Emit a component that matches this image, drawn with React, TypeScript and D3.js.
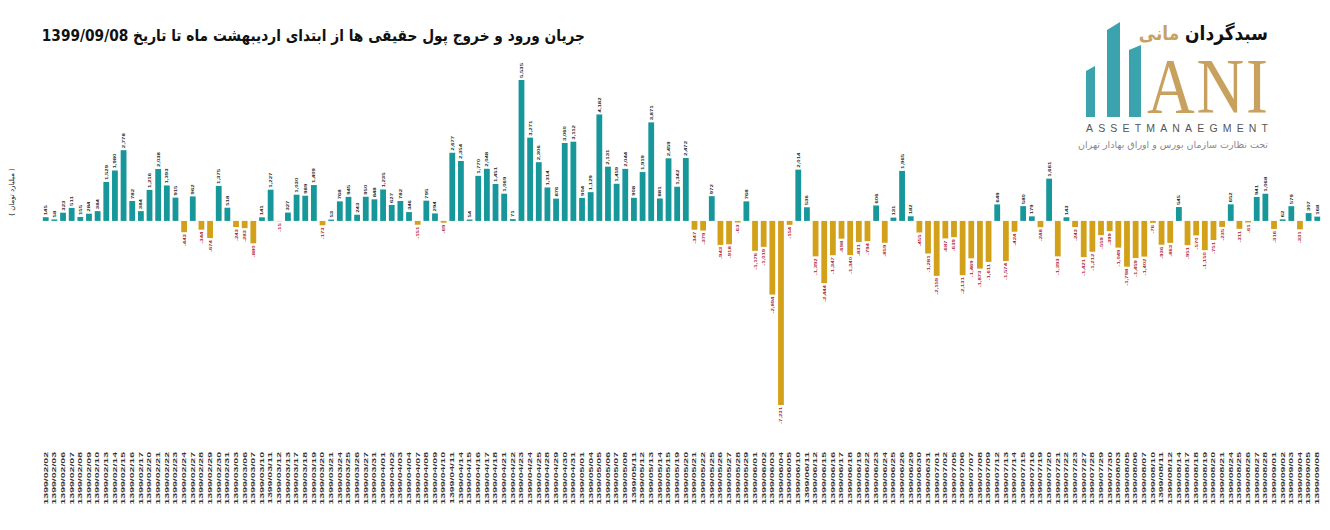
import * as d3 from 'd3';

// trading days, 1399/02/02 .. 1399/09/08
const dates = [
  '1399/02/02', '1399/02/03', '1399/02/06', '1399/02/07', '1399/02/08', '1399/02/09', '1399/02/10',
  '1399/02/13', '1399/02/14', '1399/02/15', '1399/02/16', '1399/02/17', '1399/02/20', '1399/02/21',
  '1399/02/22', '1399/02/23', '1399/02/24', '1399/02/27', '1399/02/28', '1399/02/29', '1399/02/30',
  '1399/02/31',
  '1399/03/03', '1399/03/06', '1399/03/07', '1399/03/10', '1399/03/11', '1399/03/12', '1399/03/13',
  '1399/03/17', '1399/03/18', '1399/03/19', '1399/03/20', '1399/03/21', '1399/03/24', '1399/03/25',
  '1399/03/26', '1399/03/27', '1399/03/31',
  '1399/04/01', '1399/04/02', '1399/04/03', '1399/04/04', '1399/04/07', '1399/04/08', '1399/04/09',
  '1399/04/10', '1399/04/11', '1399/04/14', '1399/04/15', '1399/04/16', '1399/04/17', '1399/04/18',
  '1399/04/21', '1399/04/22', '1399/04/23', '1399/04/24', '1399/04/25', '1399/04/28', '1399/04/29',
  '1399/04/30', '1399/04/31',
  '1399/05/01', '1399/05/04', '1399/05/05', '1399/05/06', '1399/05/07', '1399/05/08', '1399/05/11',
  '1399/05/12', '1399/05/13', '1399/05/14', '1399/05/15', '1399/05/19', '1399/05/20', '1399/05/21',
  '1399/05/22', '1399/05/25', '1399/05/26', '1399/05/27', '1399/05/28', '1399/05/29',
  '1399/06/01', '1399/06/02', '1399/06/03', '1399/06/04', '1399/06/05', '1399/06/10', '1399/06/11',
  '1399/06/12', '1399/06/15', '1399/06/16', '1399/06/17', '1399/06/18', '1399/06/19', '1399/06/22',
  '1399/06/23', '1399/06/24', '1399/06/25', '1399/06/26', '1399/06/29', '1399/06/30', '1399/06/31',
  '1399/07/01', '1399/07/02', '1399/07/05', '1399/07/06', '1399/07/07', '1399/07/08', '1399/07/09',
  '1399/07/12', '1399/07/13', '1399/07/14', '1399/07/15', '1399/07/16', '1399/07/19', '1399/07/20',
  '1399/07/21', '1399/07/22', '1399/07/23', '1399/07/27', '1399/07/28', '1399/07/29', '1399/07/30',
  '1399/08/03', '1399/08/05', '1399/08/06', '1399/08/07', '1399/08/10', '1399/08/11', '1399/08/12',
  '1399/08/14', '1399/08/17', '1399/08/18', '1399/08/19', '1399/08/20', '1399/08/21', '1399/08/24',
  '1399/08/25', '1399/08/26', '1399/08/27', '1399/08/28',
  '1399/09/01', '1399/09/02', '1399/09/03', '1399/09/04', '1399/09/05', '1399/09/08',
];

// net retail money flow, billion toman
const flows = [
  145, 58, 323, 511, 155, 284, 384, 1529, 1980, 2778, 782, 384, 1216, 2038, 1393, 915, -443, 962,
  -344, -674, 1375, 518, -243, -283, -880,
  141, 1227, -15, 327, 1030, 989, 1409, -173, 53, 768, 945, 243, 950, 848, 1235, 627, 782, 346,
  -151, 795, 294, -69, 2677, 2354, 54,
  1770, 2048, 1451, 1069, 71, 5535, 3271, 2306, 1314, 876, 3060, 3112, 904, 1129, 4182, 2131, 1459,
  2044, 908, 1919, 3871, 881, 2459, 1342, 2472,
  -347, -379, 972, -943, -918, -63, 768, -1176, -1019, -2894, -7231, -154, 2014, 536, -1392, -2444,
  -1347, -698, -1340, -831, -794, 606, -859, 131, 1965, 182,
  -455, -1281, -2159, -687, -639, -2131, -1469, -1873, -1611, 649, -1574, -424, 580, 179, -248,
  1661, -1393, 143, -243, -1421, -1212, -559, -399, -1049,
  -1798, -1459, -1402, -76, -936, -863, 545, -951, -570, -1150, -751, -235, 652, -311, -61, 941,
  1068, -316, 62, 579, -331, 307, 168,
];

const title = 'جریان ورود و خروج پول حقیقی ها از ابتدای اردیبهشت ماه تا تاریخ 1399/09/08';
const unitLabel = '( میلیارد تومان )';

const TEAL = '#17979a';
const GOLD = '#d3a01a';
const NEG_TEXT = '#b0202a';

const fmt = d3.formatLocale({ decimal: '.', thousands: ',', grouping: [3], currency: ['', ''], minus: '-' }).format(',');

function Logo() {
  const teal = '#3aa3ad';
  const gold = '#c9a15e';
  return (
    <g>
      <polygon points="1086,71 1095,66 1095,117 1086,117" fill={teal} />
      <polygon points="1107,30 1120,22 1120,117 1107,117" fill={teal} />
      <polygon points="1129,50 1141,45 1141,117 1129,117" fill={teal} />
      <text transform="translate(1268,40) scale(1,1.15)" direction="rtl" textAnchor="start"
        fontFamily="DejaVu Sans" fontWeight="bold" fontSize={17}>
        <tspan fill="#111">سبدگردان </tspan>
        <tspan fill={gold}>مانی</tspan>
      </text>
      <text transform="translate(1147,112) scale(1,1.2)" fontFamily="Liberation Serif" fontSize={66} fill={gold}
        textLength={121} lengthAdjust="spacing">ANI</text>
      <text x={1086} y={132} fontFamily="Liberation Sans" fontSize={10.5} fill="#555"
        textLength={182} lengthAdjust="spacing">ASSETMANAEGMENT</text>
      <text x={1268} y={148} direction="rtl" textAnchor="start"
        fontFamily="DejaVu Sans" fontSize={9.5} fill="#8a8a8a">
        تحت نظارت سازمان بورس و اوراق بهادار تهران
      </text>
    </g>
  );
}

export default function App() {
  const x = d3.scaleBand<string>()
    .domain(dates)
    .range([41.4, 41.4 + dates.length * 8.65])
    .paddingInner(0.33)
    .paddingOuter(0.165);
  const y = d3.scaleLinear().domain([-7231, 5535]).range([405, 80]);
  const y0 = y(0);
  const bw = x.bandwidth();

  return (
    <div style={{ position: 'fixed', left: 0, top: 0, background: '#fff' }}>
      <svg width={1330} height={530} style={{ display: 'block' }}>
        <rect width={1330} height={530} fill="#fff" />
        <text transform="translate(585,41) scale(0.86,1)" direction="rtl" textAnchor="start"
          fontFamily="DejaVu Sans" fontWeight="bold" fontSize={16} fill="#111">
          {title}
        </text>

        <text transform="translate(14,192) rotate(-90)" textAnchor="middle"
          fontFamily="DejaVu Sans" fontSize={7} fill="#222">
          {unitLabel}
        </text>

        {dates.map((d, i) => {
          const v = flows[i];
          const cx = (x(d) ?? 0) + bw / 2;
          const top = v >= 0 ? y(v) : y0;
          const h = Math.abs(y(v) - y0);
          return (
            <g key={d}>
              <rect x={x(d)} y={top} width={bw} height={h} fill={v >= 0 ? TEAL : GOLD} />
              <text
                transform={`translate(${cx},${v >= 0 ? y(v) - 2 : y(v) + 2}) rotate(-90) scale(1,0.7)`}
                textAnchor={v >= 0 ? 'start' : 'end'}
                dy="0.35em"
                fontFamily="Liberation Sans" fontWeight="bold" fontSize={6}
                fill={v >= 0 ? '#222' : NEG_TEXT}>
                {fmt(v)}
              </text>
              <text
                transform={`translate(${cx},452) rotate(-90) scale(1,0.5)`}
                textAnchor="end" dy="0.35em"
                fontFamily="Liberation Sans" fontWeight="bold" fontSize={10.5} fill="#333">
                {d}
              </text>
            </g>
          );
        })}

        <Logo />
      </svg>
    </div>
  );
}
